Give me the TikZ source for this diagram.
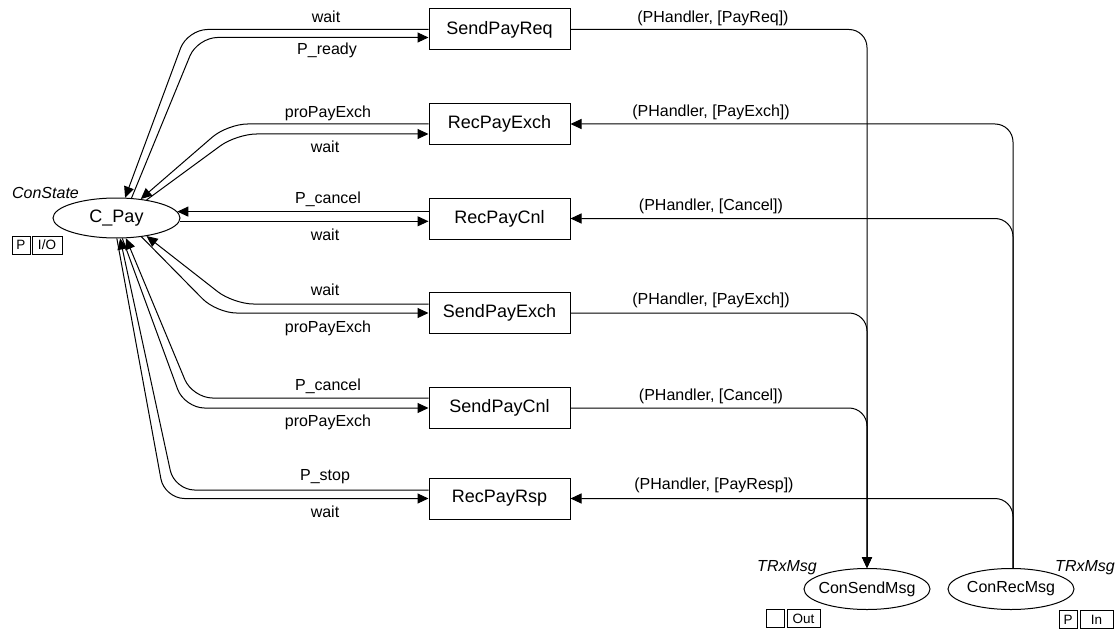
\documentclass[tikz,border=0pt]{standalone}
\usepackage{fontspec}
\setmainfont{Liberation Sans}
\usetikzlibrary{arrows.meta, shapes.geometric}

\tikzset{
  trans/.style={draw, minimum width=141pt, minimum height=41pt, inner sep=0pt, font=\fontsize{18}{20}\selectfont},
  place/.style={draw, ellipse, minimum width=126pt, minimum height=41pt, inner sep=-12pt, font=\fontsize{16}{18}\selectfont},
  lbl/.style={inner sep=0pt, font=\fontsize{16}{18}\selectfont},
  typ/.style={inner sep=0pt, font=\fontsize{16}{18}\selectfont\itshape},
  tag/.style={draw, minimum width=18pt, minimum height=18pt, inner sep=0pt, font=\fontsize{13.5}{14}\selectfont},
  toplace/.style={-{Triangle[length=11pt,width=10pt]}, rounded corners=20pt},
  totrans/.style={{Triangle[length=11pt,width=10pt]}-, rounded corners=20pt},
}

\begin{document}
\begin{tikzpicture}[x=1pt, y=-1pt, line width=1pt]
    \useasboundingbox (0,0) rectangle (1118,631);

    % places
    \node[place, minimum width=127pt, minimum height=40pt, font=\fontsize{18}{20}\selectfont] (cpay) at (116.5,218) {C\_Pay};
    \node[typ] (cpaytype) at (45.5,193) {ConState};
    \node[tag] (cpayp) at (21,245) {P};
    \node[tag, minimum width=30pt] (cpayio) at (47,245) {I/O};

    \node[place] (sendmsg) at (867,589) {ConSendMsg};
    \node[typ] (sendmsgtype) at (787,568) {TRxMsg};
    \node[tag] (sendmsgp) at (775,618.5) {};
    \node[tag, minimum width=33pt] (sendmsgout) at (803.5,618.5) {Out};

    \node[place] (recmsg) at (1011,589) {ConRecMsg};
    \node[typ] (recmsgtype) at (1085,568) {TRxMsg};
    \node[tag] (recmsgp) at (1068,619.5) {P};
    \node[tag, minimum width=33pt] (recmsgin) at (1096.5,619.5) {In};

    % transitions
    \node[trans] (sendreq) at (499.5,29.5) {SendPayReq};
    \node[trans] (recexch) at (499.5,124) {RecPayExch};
    \node[trans] (reccnl) at (499.5,218.5) {RecPayCnl};
    \node[trans] (sendexch) at (499.5,313) {SendPayExch};
    \node[trans] (sendcnl) at (499.5,408) {SendPayCnl};
    \node[trans] (recrsp) at (499.5,498.5) {RecPayRsp};

    % arcs between C_Pay and the transitions
    \draw[toplace] (sendreq.west) -- ++(-241,0) -- (cpay.67);
    \draw[totrans] ([yshift=-8pt]sendreq.west) -- ++(-231,0) -- (cpay.53);
    \node[lbl] (w1) at (326,17) {wait};
    \node[lbl] (pready) at (327,50) {P\_ready};

    \draw[toplace] (recexch.west) -- ++(-201,0) -- (cpay.38);
    \draw[totrans] ([yshift=-10pt]recexch.west) -- ++(-192,0) -- (cpay.31);
    \node[lbl] (pro1) at (328,113) {proPayExch};
    \node[lbl] (w2) at (325,146.5) {wait};

    \draw[toplace] (reccnl.west |- cpay.6) -- (cpay.6);
    \draw[totrans] (reccnl.west |- cpay.-3) -- (cpay.-3);
    \node[lbl] (pcnl1) at (328,199) {P\_cancel};
    \node[lbl] (w3) at (325,235) {wait};

    \draw[toplace] ([yshift=9pt]sendexch.west) -- ++(-195,0) -- (cpay.-31);
    \draw[totrans] (sendexch.west) -- ++(-212,0) -- (cpay.-37);
    \node[lbl] (w4) at (325,290) {wait};
    \node[lbl] (pro2) at (328,328) {proPayExch};

    \draw[toplace] ([yshift=10pt]sendcnl.west) -- ++(-236,0) -- (cpay.-65);
    \draw[totrans] (sendcnl.west) -- ++(-244,0) -- (cpay.-74);
    \node[lbl] (pcnl2) at (328,386) {P\_cancel};
    \node[lbl] (pro3) at (328,422) {proPayExch};

    \draw[toplace] ([yshift=8.5pt]recrsp.west) -- ++(-254,0) -- (cpay.-80);
    \draw[totrans] (recrsp.west) -- ++(-264,0) -- (cpay.-89);
    \node[lbl] (pstop) at (325,477) {P\_stop};
    \node[lbl] (w5) at (325,512) {wait};

    % arcs to and from the message places
    \draw[toplace, rounded corners=18pt] (sendreq.east) -| (sendmsg.north);
    \draw[toplace, rounded corners=18pt] (sendexch.east) -| (sendmsg.north);
    \draw[toplace, rounded corners=18pt] (sendcnl.east) -| (sendmsg.north);
    \draw[toplace, rounded corners=18pt] ([xshift=2pt]recmsg.north) |- (recexch.east);
    \draw[toplace, rounded corners=18pt] ([xshift=2pt]recmsg.north) |- (reccnl.east);
    \draw[toplace, rounded corners=18pt] ([xshift=2pt]recmsg.north) |- (recrsp.east);

    \node[lbl] (msg1) at (713,18) {(PHandler, [PayReq])};
    \node[lbl] (msg2) at (711,112) {(PHandler, [PayExch])};
    \node[lbl] (msg3) at (711,206) {(PHandler, [Cancel])};
    \node[lbl] (msg4) at (711,300) {(PHandler, [PayExch])};
    \node[lbl] (msg5) at (711,396) {(PHandler, [Cancel])};
    \node[lbl] (msg6) at (714,485) {(PHandler, [PayResp])};
\end{tikzpicture}
\end{document}
